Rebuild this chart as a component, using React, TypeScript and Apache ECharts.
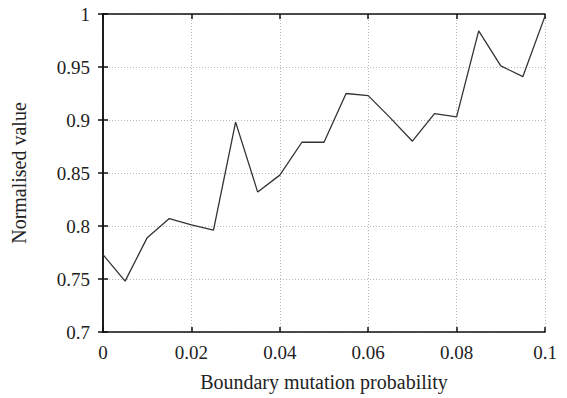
import React, { useEffect, useRef } from "react";
import * as echarts from "echarts";

// Boundary mutation probability sampled every 0.005
const probabilities = [
  0, 0.005, 0.01, 0.015, 0.02, 0.025, 0.03, 0.035, 0.04, 0.045, 0.05,
  0.055, 0.06, 0.065, 0.07, 0.075, 0.08, 0.085, 0.09, 0.095, 0.1,
];
const normalisedValues = [
  0.773, 0.748, 0.789, 0.807, 0.801, 0.796, 0.898, 0.832, 0.848, 0.879, 0.879,
  0.925, 0.923, 0.902, 0.88, 0.906, 0.903, 0.984, 0.951, 0.941, 0.998,
];

const FONT = "Liberation Serif";

export default function App() {
  const ref = useRef<HTMLDivElement>(null);

  useEffect(() => {
    document.body.style.margin = "0";
    if (!ref.current) return;
    const chart = echarts.init(ref.current, null, { renderer: "svg" });

    const gridLine = {
      show: true,
      lineStyle: { color: "#b8b8b8", type: [1, 2] as number[], width: 1 },
    };
    const frame = { show: true, lineStyle: { color: "#111", width: 1.5 } };
    const tick = { show: true, inside: true, length: 5, lineStyle: { color: "#111", width: 1.5 } };
    const fmt = (v: number) => String(+v.toFixed(3));

    chart.setOption({
      animation: false,
      backgroundColor: "#fff",
      grid: { left: 103, right: 22, top: 14, bottom: 66, containLabel: false },
      xAxis: [
        {
          type: "value",
          min: 0,
          max: 0.1,
          interval: 0.02,
          name: "Boundary mutation probability",
          nameLocation: "middle",
          nameGap: 40,
          nameTextStyle: { fontFamily: FONT, fontSize: 20, color: "#222" },
          axisLine: frame,
          axisTick: tick,
          splitLine: gridLine,
          axisLabel: { fontFamily: FONT, fontSize: 19, color: "#222", margin: 11, formatter: fmt },
        },
        {
          type: "value",
          position: "top",
          min: 0,
          max: 0.1,
          interval: 0.02,
          axisLine: frame,
          axisTick: tick,
          axisLabel: { show: false },
          splitLine: { show: false },
        },
      ],
      yAxis: [
        {
          type: "value",
          min: 0.7,
          max: 1,
          interval: 0.05,
          name: "Normalised value",
          nameLocation: "middle",
          nameGap: 74,
          nameTextStyle: { fontFamily: FONT, fontSize: 20, color: "#222" },
          axisLine: frame,
          axisTick: tick,
          splitLine: gridLine,
          axisLabel: { fontFamily: FONT, fontSize: 19, color: "#222", margin: 13, formatter: fmt },
        },
        {
          type: "value",
          position: "right",
          min: 0.7,
          max: 1,
          interval: 0.05,
          axisLine: frame,
          axisTick: tick,
          axisLabel: { show: false },
          splitLine: { show: false },
        },
      ],
      series: [
        {
          type: "line",
          data: probabilities.map((p, i) => [p, normalisedValues[i]]),
          showSymbol: false,
          lineStyle: { color: "#333", width: 1.3 },
          clip: false,
        },
      ],
    });

    return () => chart.dispose();
  }, []);

  return (
    <div
      ref={ref}
      style={{ position: "fixed", left: 0, top: 0, width: 567, height: 398 }}
    />
  );
}
